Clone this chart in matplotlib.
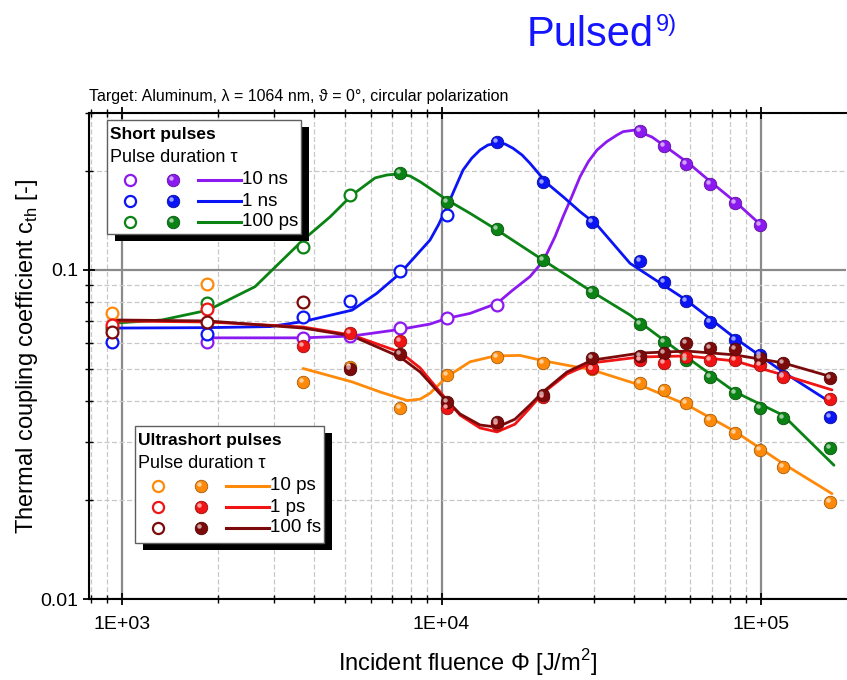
import numpy as np
import matplotlib.pyplot as plt
from matplotlib.patches import Rectangle
from matplotlib.lines import Line2D
from matplotlib.ticker import LogLocator, NullFormatter, FixedLocator, FixedFormatter
import matplotlib.transforms as mtransforms

plt.rcParams['font.family'] = ['Liberation Sans', 'DejaVu Sans']

# fluence steps used in the measurements [J/m^2]
fluence = [930, 1850, 3690, 5180, 7410, 10400, 14930, 20800, 29600,
           41800, 49700, 58200, 69200, 82900, 99400, 117000, 164000]

# --- short pulses ---
ns10_open_x = fluence[1:7]
ns10_open_y = [0.0603, 0.0620, 0.0630, 0.0668, 0.0713, 0.0783]
ns10_fill_x = fluence[9:15]
ns10_fill_y = [0.2650, 0.2378, 0.2105, 0.1828, 0.1595, 0.1369]
ns10_fit_x = [1858, 2605, 3686, 5247, 7417, 9205, 10404, 12280, 14920, 16740, 18920, 20090,
              21390, 22660, 24010, 25560, 27140, 28810, 30670, 32890, 35430, 36990, 40320,
              45600, 50060, 59530, 70750, 84100, 100000]
ns10_fit_y = [0.0622, 0.0622, 0.0622, 0.0630, 0.0660, 0.0685, 0.0713, 0.0738, 0.0792, 0.0870, 0.0955, 0.1023,
              0.1124, 0.1263, 0.1452, 0.1670, 0.1921, 0.2135, 0.2316, 0.2455, 0.2572, 0.2633, 0.2663,
              0.2535, 0.2378, 0.2105, 0.1828, 0.1595, 0.1369]

ns1_open_x = fluence[0:6]
ns1_open_y = [0.0605, 0.0639, 0.0718, 0.0805, 0.0993, 0.1469]
ns1_fill_x = fluence[6:17]
ns1_fill_y = [0.2455, 0.1845, 0.1395, 0.1067, 0.0921, 0.0805, 0.0697, 0.0612, 0.0550, 0.0475, 0.0357]
ns1_fit_x = [930, 1858, 2905, 3686, 5247, 6267, 7417, 9205, 9773, 10404, 11020, 11680, 12430, 13200,
             13980, 14920, 15800, 16740, 17870, 18920, 21390, 24010, 27140, 30670, 38900, 58260,
             82900, 117200, 164400]
ns1_fit_y = [0.0666, 0.0668, 0.0673, 0.0697, 0.0755, 0.0849, 0.0977, 0.1234, 0.1370, 0.1557, 0.1771,
             0.2014, 0.2186, 0.2316, 0.2399, 0.2427, 0.2415, 0.2344, 0.2236, 0.2110, 0.1834, 0.1670,
             0.1504, 0.1370, 0.1048, 0.0811, 0.0621, 0.0490, 0.0397]

ps100_open_x = fluence[0:4]
ps100_open_y = [0.0665, 0.0792, 0.1177, 0.1690]
ps100_fill_x = fluence[4:17]
ps100_fill_y = [0.1970, 0.1610, 0.1330, 0.1075, 0.0857, 0.0686, 0.0605, 0.0532, 0.0474,
                0.0422, 0.0380, 0.0354, 0.0288]
ps100_fit_x = [935, 1334, 1858, 2608, 3686, 4477, 5247, 6195, 6744, 7362, 7970, 8567, 10404, 12280,
               14920, 20780, 29580, 38900, 58260, 82900, 117200, 169200]
ps100_fit_y = [0.0689, 0.0705, 0.0755, 0.0890, 0.1234, 0.1450, 0.1690, 0.1905, 0.1944, 0.1960, 0.1930,
               0.1855, 0.1633, 0.1487, 0.1323, 0.1072, 0.0859, 0.0730, 0.0545, 0.0426, 0.0362, 0.0255]

# --- ultrashort pulses ---
ps10_open_x = fluence[0:2]
ps10_open_y = [0.0741, 0.0906]
ps10_fill_x = fluence[2:17]
ps10_fill_y = [0.0457, 0.0508, 0.0380, 0.0480, 0.0544, 0.0520, 0.0500, 0.0453, 0.0431,
               0.0395, 0.0350, 0.0319, 0.0284, 0.0252, 0.0197]
ps10_fit_x = [3686, 5247, 6420, 7798, 8567, 9205, 10404, 12280, 14710, 17610, 20780,
              29580, 41800, 58680, 82900, 117200, 166800]
ps10_fit_y = [0.0502, 0.0457, 0.0426, 0.0401, 0.0405, 0.0422, 0.0474, 0.0526, 0.0548, 0.0550, 0.0530,
              0.0497, 0.0447, 0.0389, 0.0323, 0.0258, 0.0209]

ps1_open_x = fluence[0:2]
ps1_open_y = [0.0679, 0.0760]
ps1_fill_x = fluence[2:17]
ps1_fill_y = [0.0589, 0.0642, 0.0610, 0.0380, 0.0340, 0.0410, 0.0502, 0.0532, 0.0520,
              0.0545, 0.0532, 0.0532, 0.0514, 0.0472, 0.0405]
ps1_fit_x = [930, 1858, 3686, 5247, 7417, 8567, 9893, 11430, 13200, 14920, 16980, 18920,
             20780, 24710, 29580, 41800, 58680, 82900, 117200, 166800]
ps1_fit_y = [0.0700, 0.0695, 0.0671, 0.0634, 0.0563, 0.0504, 0.0426, 0.0362, 0.0331, 0.0322, 0.0340, 0.0381,
             0.0423, 0.0483, 0.0522, 0.0544, 0.0548, 0.0529, 0.0480, 0.0432]

fs100_open_x = fluence[0:3]
fs100_open_y = [0.0650, 0.0693, 0.0798]
fs100_fill_x = fluence[3:17]
fs100_fill_y = [0.0499, 0.0555, 0.0398, 0.0346, 0.0417, 0.0539, 0.0548, 0.0558, 0.0601,
                0.0578, 0.0574, 0.0540, 0.0523, 0.0469]
fs100_fit_x = ps1_fit_x
fs100_fit_y = [0.0705, 0.0700, 0.0666, 0.0630, 0.0544, 0.0490, 0.0420, 0.0365, 0.0338, 0.0333, 0.0352, 0.0389,
               0.0426, 0.0490, 0.0532, 0.0559, 0.0567, 0.0552, 0.0522, 0.0473]

purple = '#8C1AF0'
blue = '#0A14F5'
green = '#0A8214'
orange = '#FF8A0A'
red = '#F01414'
darkred = '#7D0A0A'

series = [
    (ns10_fit_x, ns10_fit_y, ns10_open_x, ns10_open_y, ns10_fill_x, ns10_fill_y, purple),
    (ns1_fit_x, ns1_fit_y, ns1_open_x, ns1_open_y, ns1_fill_x, ns1_fill_y, blue),
    (ps100_fit_x, ps100_fit_y, ps100_open_x, ps100_open_y, ps100_fill_x, ps100_fill_y, green),
    (ps10_fit_x, ps10_fit_y, ps10_open_x, ps10_open_y, ps10_fill_x, ps10_fill_y, orange),
    (ps1_fit_x, ps1_fit_y, ps1_open_x, ps1_open_y, ps1_fill_x, ps1_fill_y, red),
    (fs100_fit_x, fs100_fit_y, fs100_open_x, fs100_open_y, fs100_fill_x, fs100_fill_y, darkred),
]


def lighter(c, f=0.6):
    rgb = np.array(plt.matplotlib.colors.to_rgb(c))
    return tuple(rgb + (1 - rgb) * f)


def darker(c, f=0.35):
    rgb = np.array(plt.matplotlib.colors.to_rgb(c))
    return tuple(rgb * (1 - f))


fig = plt.figure(figsize=(8.47, 6.8), dpi=100)
ax = fig.add_axes([0.1051, 0.1191, 0.8937, 0.7147])
ax.set_xscale('log')
ax.set_yscale('log')
ax.set_xlim(788, 184500)
ax.set_ylim(0.01, 0.3)

# grid: solid at decades, dashed in between
ax.grid(True, which='major', color='#8a8a8a', lw=1.6, ls='-', zorder=0)
ax.grid(True, which='minor', color='#c8c8c8', lw=0.9, ls=(0, (4, 2)), zorder=0)
ax.set_axisbelow(True)

ax.xaxis.set_major_locator(FixedLocator([1e3, 1e4, 1e5]))
ax.xaxis.set_major_formatter(FixedFormatter(['1E+03', '1E+04', '1E+05']))
ax.xaxis.set_minor_locator(LogLocator(base=10, subs=np.arange(2, 10)))
ax.xaxis.set_minor_formatter(NullFormatter())
ax.yaxis.set_major_locator(FixedLocator([0.01, 0.1]))
ax.yaxis.set_major_formatter(FixedFormatter(['0.01', '0.1']))
ax.yaxis.set_minor_locator(LogLocator(base=10, subs=np.arange(2, 10)))
ax.yaxis.set_minor_formatter(NullFormatter())

ax.tick_params(which='major', direction='inout', length=9, width=1.3, labelsize=14, top=True, right=False)
ax.tick_params(which='minor', direction='inout', length=6, width=1.0, top=True, right=False)
ax.tick_params(axis='x', pad=8)
for s in ax.spines.values():
    s.set_linewidth(1.5)
ax.spines['right'].set_visible(False)

hl = mtransforms.offset_copy(ax.transData, fig=fig, x=-1.4, y=1.4, units='points')

for fx, fy, ox, oy, px, py, c in series:
    ax.plot(fx, fy, color=c, lw=2.0, zorder=2, solid_capstyle='round', solid_joinstyle='round')
for fx, fy, ox, oy, px, py, c in series:
    ax.plot(ox, oy, 'o', ms=8.5, mfc='white', mec=c, mew=1.6, ls='none', zorder=3)
    ax.plot(px, py, 'o', ms=9, mfc=c, mec=darker(c), mew=0.6, ls='none', zorder=3)
    ax.plot(px, py, 'o', ms=3.2, mfc=lighter(c), mec='none', ls='none', zorder=4, transform=hl)

ax.set_xlabel('Incident fluence \u03a6 [J/m$^\\mathregular{2}$]', fontsize=17, labelpad=10)
ax.set_ylabel('Thermal coupling coefficient c$_\\mathregular{th}$ [-]', fontsize=17, labelpad=0)

fig.text(89 / 847, 1 - 97 / 680, 'Target: Aluminum, \u03bb = 1064 nm, \u03d1 = 0\u00b0, circular polarization',
         fontsize=11.5, va='center', ha='left')
fig.text(527 / 847, 1 - 46 / 680, 'Pulsed', color='#1414FF', fontsize=30, va='baseline', ha='left')
fig.text(656 / 847, 1 - 31 / 680, '9)', color='#1414FF', fontsize=17, va='baseline', ha='left')


def px(x, y):
    return x / 847, 1 - y / 680


def legend_box(x0, y0, x1, y1, title, rows):
    # shadowed white box with two marker columns and a line sample per row
    sx, sy = px(x0 + 8, y1 + 7)
    fig.add_artist(Rectangle((sx, sy), (x1 - x0) / 847, (y1 - y0) / 680,
                             transform=fig.transFigure, fc='black', ec='none', zorder=10))
    bx, by = px(x0, y1)
    fig.add_artist(Rectangle((bx, by), (x1 - x0) / 847, (y1 - y0) / 680,
                             transform=fig.transFigure, fc='white', ec='#606060', lw=1.0, zorder=11))
    tx, ty = px(x0 + 3, y0 + 14)
    fig.text(tx, ty, title, fontsize=12.5, fontweight='bold', va='center', zorder=12)
    tx, ty = px(x0 + 3, y0 + 37)
    fig.text(tx, ty, 'Pulse duration \u03c4', fontsize=13, va='center', zorder=12)
    for i, (lab, c) in enumerate(rows):
        yy = y0 + 60 + i * 21
        mx, my = px(x0 + 23, yy)
        fig.add_artist(Line2D([mx], [my], transform=fig.transFigure, marker='o', ms=8, mfc='white',
                              mec=c, mew=1.6, zorder=12))
        mx, my = px(x0 + 66, yy)
        fig.add_artist(Line2D([mx], [my], transform=fig.transFigure, marker='o', ms=9, mfc=c,
                              mec=darker(c), mew=0.6, zorder=12))
        fig.add_artist(Line2D([mx - 1.6 / 847], [my + 1.6 / 680], transform=fig.transFigure, marker='o',
                              ms=3.2, mfc=lighter(c), mec='none', zorder=13))
        lx0, ly0 = px(x0 + 91, yy)
        lx1, _ = px(x0 + 134, yy)
        fig.add_artist(Line2D([lx0, lx1], [ly0, ly0], transform=fig.transFigure, color=c, lw=2.2, zorder=12))
        tx, _ = px(x0 + 135, yy)
        fig.text(tx, ly0, lab, fontsize=13.5, va='center', zorder=12)


legend_box(107, 120, 301, 234, 'Short pulses', [('10 ns', purple), ('1 ns', blue), ('100 ps', green)])
legend_box(135, 426, 324, 543, 'Ultrashort pulses', [('10 ps', orange), ('1 ps', red), ('100 fs', darkred)])

fig.savefig('out.png', dpi=100)
